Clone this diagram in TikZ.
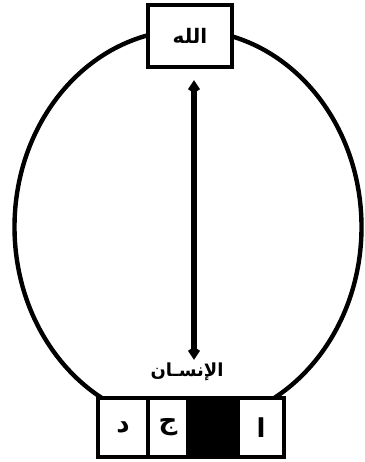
\documentclass[tikz,border=0pt]{standalone}
\usepackage{fontspec}
\usetikzlibrary{arrows.meta}
\newfontfamily\arabicfont[Script=Arabic]{DejaVu Sans}
\TeXXeTstate=1
\tikzset{
  ring/.style={draw, line width=4.4pt},
  namebox/.style={draw, line width=4.4pt, fill=white, inner sep=0pt,
                  font=\arabicfont\bfseries\fontsize{20}{22}\selectfont},
  namelbl/.style={inner sep=0pt, font=\arabicfont\bfseries\fontsize{18}{20}\selectfont},
  cell/.style={draw, line width=4.2pt, fill=white, inner sep=0pt, minimum height=59pt,
               font=\arabicfont\bfseries\fontsize{26}{28}\selectfont},
  blackcell/.style={cell, fill=black},
  link/.style={{Kite[length=13pt,width=12pt,inset=4pt]}-{Kite[length=13pt,width=12pt,inset=4pt]},
               line width=5.2pt},
}
\begin{document}
\begin{tikzpicture}[x=1pt, y=-1pt]
  \useasboundingbox (0,0) rectangle (364,462);
  % the closed curve
  \draw[ring] (188,227) ellipse [x radius=173.5, y radius=197];
  % top
  \node[namebox, minimum width=84pt, minimum height=62pt] (allah) at (190,36) {\beginR الله\endR};
  % bottom: label and the row of letters
  \node[namelbl] (insan) at (187,372) {\beginR الإنسـان\endR};
  \node[cell, minimum width=50pt] (dal)  at (123,427.5) {\beginR د\endR};
  \node[cell, minimum width=40pt] (jim)  at (168,427.5) {\beginR ج\endR};
  \node[blackcell, minimum width=50pt] (ba) at (213,427.5) {};
  \node[cell, minimum width=46pt] (alif) at (261,427.5) {\beginR ا\endR};
  % link between the two
  \draw[link, shorten <=11pt, shorten >=3pt] ([xshift=4pt]allah.south) -- ([xshift=7pt]insan.north);
\end{tikzpicture}
\end{document}
